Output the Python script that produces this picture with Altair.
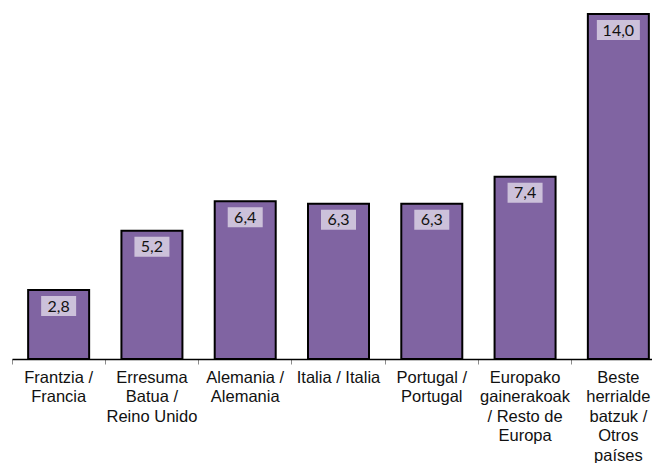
import altair as alt
import pandas as pd

categories = [
    "Frantzia /\nFrancia",
    "Erresuma\nBatua /\nReino Unido",
    "Alemania /\nAlemania",
    "Italia / Italia",
    "Portugal /\nPortugal",
    "Europako\ngainerakoak\n/ Resto de\nEuropa",
    "Beste\nherrialde\nbatzuk /\nOtros\npaíses",
]
values = [2.8, 5.2, 6.4, 6.3, 6.3, 7.4, 14.0]
labels = ["2,8", "5,2", "6,4", "6,3", "6,3", "7,4", "14,0"]

df = pd.DataFrame({"cat": categories, "value": values, "label": labels})

x = alt.X(
    "cat:N",
    sort=None,
    title=None,
    scale=alt.Scale(range=[0, 653], paddingInner=0, paddingOuter=0),
    axis=alt.Axis(
        labelAngle=0,
        labelExpr="split(datum.label, '\\n')",
        labelFont="Liberation Sans",
        labelFontSize=16.5,
        labelLineHeight=19.5,
        labelColor="#111111",
        labelBaseline="top",
        labelPadding=5,
        labelLimit=200,
        bandPosition=0,
        domainColor="#000000",
        domainWidth=1.5,
        tickColor="#8c8c8c",
        tickWidth=1,
        tickSize=5,
        grid=False,
    ),
)
y = alt.Y("value:Q", scale=alt.Scale(domain=[0, 14], nice=False, zero=True), axis=None)

bars = alt.Chart(df).mark_bar(
    size=61, color="#8064A2", stroke="#000000", strokeWidth=2
).encode(x=x, y=y)

boxes = alt.Chart(df).transform_calculate(
    w="length(datum.label) * 8 + 11"
).mark_bar(color="#CCC1DA", yOffset=6, y2Offset=26).encode(
    x=x, y=y, y2=alt.Y2("value:Q"), size=alt.Size("w:Q", scale=None, legend=None)
)

texts = alt.Chart(df).mark_text(
    font="Lato", fontSize=16, color="#111111", baseline="middle", dy=16.5
).encode(x=x, y=y, text="label:N")

chart = (
    alt.layer(bars, boxes, texts)
    .properties(
        width=640,
        height=345,
        autosize=alt.AutoSizeParams(type="none"),
        padding={"left": 4, "top": 6, "right": 0, "bottom": 104},
    )
    .configure_view(stroke=None)
)

chart.save("out.html", embed_options={"renderer": "svg", "actions": False})
